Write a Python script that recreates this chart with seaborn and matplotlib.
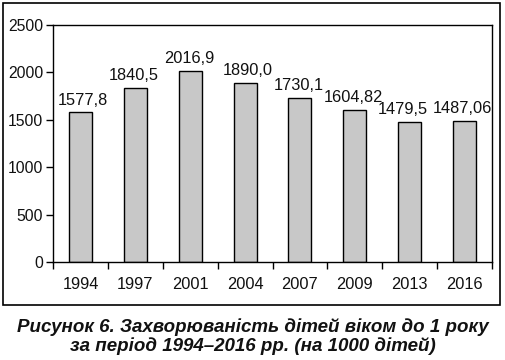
import matplotlib
matplotlib.use("Agg")
import matplotlib.pyplot as plt
import seaborn as sns
import pandas as pd
from matplotlib.patches import Rectangle
from matplotlib.ticker import FixedLocator

years = ["1994", "1997", "2001", "2004", "2007", "2009", "2013", "2016"]
values = [1577.8, 1840.5, 2016.9, 1890.0, 1730.1, 1604.82, 1479.5, 1487.06]
labels = ["1577,8", "1840,5", "2016,9", "1890,0", "1730,1", "1604,82", "1479,5", "1487,06"]
yticks = [0, 500, 1000, 1500, 2000, 2500]
caption = "Рисунок 6. Захворюваність дітей віком до 1 року\nза період 1994–2016 рр. (на 1000 дітей)"

sns.set_theme(style="white")
plt.rcParams['font.family'] = ['Liberation Sans', 'DejaVu Sans']

df = pd.DataFrame({"year": years, "value": values})

fig = plt.figure(figsize=(5.05, 3.6), dpi=100)
ax = fig.add_axes([53/505, 1-262/360, (492-53)/505, (262-25)/360])

sns.barplot(data=df, x="year", y="value", ax=ax, color="#c8c8c8",
            edgecolor="black", linewidth=1.0, width=0.42, saturation=1)

# nudge crowded labels sideways a little (as in the original layout)
nudge = {"1994": 2, "2004": 2, "2013": -5, "2016": -1.5}
for i, (yr, v, lab) in enumerate(zip(years, values, labels)):
    ax.annotate(lab, xy=(i, v), xytext=(nudge.get(yr, -1), 3.5),
                textcoords="offset points", ha="center", va="bottom",
                fontsize=11.8, color="#111111")

ax.set_ylim(0, 2500)
ax.set_xlim(-0.5, len(years) - 0.5)
ax.set_yticks(yticks)
ax.set_yticklabels([str(t) for t in yticks], fontsize=11.3, color="#111111")
ax.set_xticklabels(years, fontsize=11.8, color="#111111")
ax.tick_params(axis="x", which="major", length=0, pad=11)
ax.xaxis.set_minor_locator(FixedLocator([i - 0.5 for i in range(len(years) + 1)]))
ax.tick_params(axis="x", which="minor", length=5, width=1, color="black", direction="out", bottom=True)
ax.tick_params(axis="y", length=5, width=1, color="black", direction="out", left=True, pad=2)
ax.set_xlabel("")
ax.set_ylabel("")
for s in ax.spines.values():
    s.set_visible(True)
    s.set_color("black")
    s.set_linewidth(1.0)

fig.patches.append(Rectangle((3/505, 1-305/360), (500-3)/505, (305-3)/360,
                             transform=fig.transFigure, fill=False,
                             edgecolor="black", linewidth=1.2))

fig.text(0.5, 1-336.5/360, caption, ha="center", va="center", fontsize=13.5,
         fontweight="bold", fontstyle="italic", linespacing=1.05, color="#111111")

fig.savefig("out.png", dpi=100)
